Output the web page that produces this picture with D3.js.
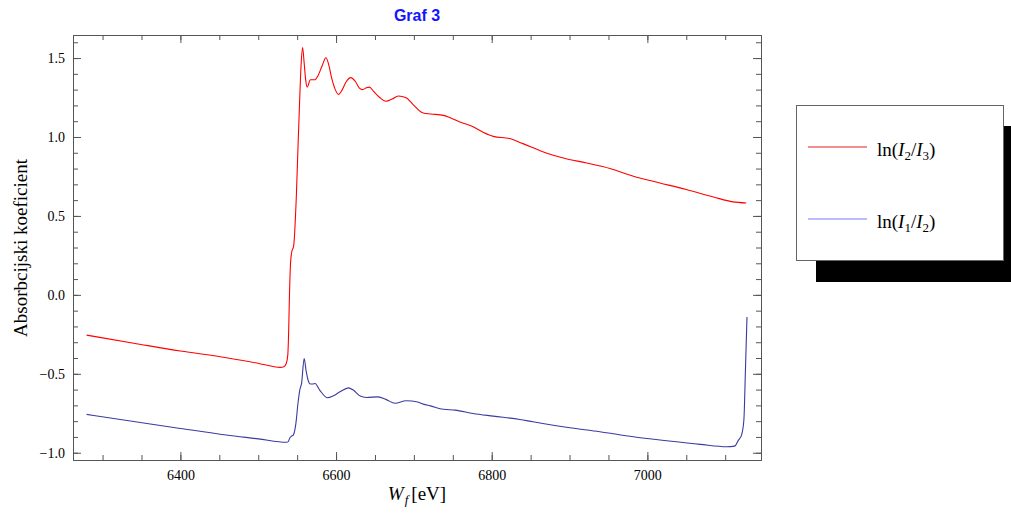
<!DOCTYPE html>
<html>
<head>
<meta charset="utf-8">
<script src="https://cdn.jsdelivr.net/npm/d3@7"></script>
<style>
    body { margin: 0; background: #fff; }
    svg { display: block; }
    .axis line, .axis path { stroke: #555; }
</style>
</head>
<body>
<svg width="1011" height="517"></svg>
<script>
// energy [eV] and absorption
var energyRed = [6279.5, 6340, 6400, 6459, 6502, 6519, 6528, 6533, 6536, 6538, 6539, 6540, 6541.5, 6543, 6545.5,
    6549, 6551.4, 6553, 6555, 6557, 6559, 6561, 6563, 6567, 6573, 6577, 6582, 6587, 6591, 6594, 6599, 6603, 6608,
    6613, 6619, 6625, 6630, 6634, 6639, 6643, 6648, 6656, 6664, 6672, 6680, 6690, 6700, 6712, 6722, 6738, 6746,
    6759, 6774, 6789, 6802, 6823, 6840, 6870, 6892, 6922, 6952, 6982, 7016, 7050, 7085, 7110, 7127];
var muRed = [-0.255, -0.306, -0.356, -0.398, -0.436, -0.454, -0.459, -0.455, -0.435, -0.38, -0.25, -0.03, 0.2, 0.27, 0.31,
    0.63, 0.98, 1.2, 1.45, 1.566, 1.47, 1.36, 1.316, 1.363, 1.363, 1.39, 1.45, 1.502, 1.45, 1.38, 1.30, 1.27, 1.30,
    1.35, 1.376, 1.35, 1.31, 1.30, 1.312, 1.316, 1.29, 1.25, 1.226, 1.24, 1.26, 1.249, 1.20, 1.152, 1.146, 1.137, 1.123,
    1.095, 1.07, 1.03, 1.004, 0.99, 0.958, 0.899, 0.867, 0.835, 0.80, 0.751, 0.709, 0.667, 0.62, 0.589, 0.582];

var energyBlue = [6279.5, 6340, 6400, 6459, 6500, 6536.5, 6538.5, 6540.7, 6542.5, 6545, 6548.4, 6551, 6553.5, 6555.7,
    6559, 6561.5, 6564, 6567, 6570, 6573, 6579, 6589, 6596, 6605, 6616, 6622, 6631, 6639, 6654, 6664, 6676, 6690,
    6705, 6712, 6721, 6738, 6753, 6776, 6802, 6836, 6853, 6896, 6939, 6982, 7025, 7068, 7102, 7112, 7117, 7121,
    7124, 7126, 7128];
var muBlue = [-0.757, -0.802, -0.846, -0.888, -0.912, -0.934, -0.93, -0.905, -0.896, -0.888, -0.814, -0.69, -0.60, -0.561,
    -0.403, -0.48, -0.54, -0.565, -0.565, -0.561, -0.603, -0.652, -0.641, -0.614, -0.589, -0.603, -0.641, -0.65,
    -0.646, -0.662, -0.687, -0.671, -0.679, -0.692, -0.703, -0.725, -0.73, -0.751, -0.768, -0.789, -0.804, -0.839,
    -0.867, -0.899, -0.924, -0.947, -0.962, -0.958, -0.92, -0.888, -0.793, -0.477, -0.14];

var xTickLabels = [6400, 6600, 6800, 7000];
var yTickLabels = [-1.0, -0.5, 0.0, 0.5, 1.0, 1.5];

const svg = d3.select('svg');

const margin = {
    top: 35,
    bottom: 57,
    left: 73,
    right: 250
};

const width = +svg.attr('width') - margin.left - margin.right;
const height = +svg.attr('height') - margin.top - margin.bottom;

const chart = svg
    .append('g')
    .attr('transform', `translate(${margin.left},${margin.top})`);

// Create scales
const xScale = d3
    .scaleLinear()
    .range([0, width])
    .domain([6262, 7146]);

const yScale = d3
    .scaleLinear()
    .range([height, 0])
    .domain([-1.046, 1.646]);

const xMinor = d3.range(6300, 7146, 50);
const yMinor = d3.range(-10, 17).map(function(d) { return d / 10; });

function drawAxis(axisFn, scale, ticks, size, transform, labels) {
    var a = axisFn(scale)
        .tickValues(ticks)
        .tickSizeInner(-size)
        .tickSizeOuter(0);
    if (labels) {
        a.tickPadding(labels).tickFormat(d3.format('.1f'));
    } else {
        a.tickFormat('');
    }
    var g = chart
        .append('g')
        .attr('class', 'axis')
        .attr('transform', transform)
        .call(a);
    g.selectAll('text')
        .style('font-family', "'Liberation Serif', 'Times New Roman', serif")
        .style('font-size', '14px')
        .style('fill', '#000');
    return g;
}

// Frame ticks: minor then major, on all four sides
drawAxis(d3.axisBottom, xScale, xMinor, 5, `translate(0,${height})`);
drawAxis(d3.axisTop, xScale, xMinor, 5, 'translate(0,0)');
drawAxis(d3.axisLeft, yScale, yMinor, 5, 'translate(0,0)');
drawAxis(d3.axisRight, yScale, yMinor, 5, `translate(${width},0)`);

drawAxis(d3.axisBottom, xScale, xTickLabels, 8, `translate(0,${height})`, 10)
    .call(function(g) { g.selectAll('text').text(function(d) { return d; }); });
drawAxis(d3.axisTop, xScale, xTickLabels, 8, 'translate(0,0)');
drawAxis(d3.axisLeft, yScale, yTickLabels, 8, 'translate(0,0)', 8)
    .call(function(g) {
        g.selectAll('text').text(function(d) { return d < 0 ? '\u2212' + Math.abs(d).toFixed(1) : d.toFixed(1); });
    });
drawAxis(d3.axisRight, yScale, yTickLabels, 8, `translate(${width},0)`);

// Curves
const line = d3
    .line()
    .x(function(d) { return xScale(d[0]); })
    .y(function(d) { return yScale(d[1]); })
    .curve(d3.curveMonotoneX);

chart
    .append('path')
    .datum(d3.zip(energyRed, muRed))
    .attr('fill', 'none')
    .attr('stroke', '#ff0000')
    .attr('stroke-width', 1.1)
    .attr('d', line);

chart
    .append('path')
    .datum(d3.zip(energyBlue, muBlue))
    .attr('fill', 'none')
    .attr('stroke', '#3a3aa0')
    .attr('stroke-width', 1.1)
    .attr('d', line);

// Titles
svg.append('text')
    .attr('x', margin.left + width / 2)
    .attr('y', 21)
    .style('text-anchor', 'middle')
    .style('font-family', "'Liberation Sans', Arial, sans-serif")
    .style('font-weight', 'bold')
    .style('font-size', '16px')
    .style('fill', '#1414ff')
    .text('Graf 3');

const xTitle = svg.append('text')
    .attr('x', margin.left + width / 2)
    .attr('y', 500)
    .style('text-anchor', 'middle')
    .style('font-family', "'Liberation Serif', serif")
    .style('font-size', '19px');
xTitle.append('tspan').style('font-style', 'italic').text('W');
xTitle.append('tspan').style('font-style', 'italic').style('font-size', '13px').attr('dx', 1).attr('dy', 4).text('f');
xTitle.append('tspan').attr('dx', 3).attr('dy', -4).text('[eV]');

svg.append('text')
    .attr('transform', 'translate(27,' + (margin.top + 213) + ') rotate(-90)')
    .style('text-anchor', 'middle')
    .style('font-family', "'Liberation Serif', serif")
    .style('font-size', '19px')
    .text('Absorbcijski koeficient');

// Legend with drop shadow
const legend = svg.append('g');

legend.append('rect')
    .attr('x', 816).attr('y', 126)
    .attr('width', 207).attr('height', 156)
    .attr('fill', '#000');

legend.append('rect')
    .attr('x', 796.5).attr('y', 105.5)
    .attr('width', 207).attr('height', 155)
    .attr('fill', '#fff')
    .attr('stroke', '#666');

var legendItems = [
    { color: '#e61e1e', a: '2', b: '3', y: 147 },
    { color: '#7878ff', a: '1', b: '2', y: 219 }
];

legendItems.forEach(function(item) {
    legend.append('line')
        .attr('x1', 808).attr('x2', 867)
        .attr('y1', item.y).attr('y2', item.y)
        .attr('stroke', item.color)
        .attr('stroke-width', 1.2);

    var t = legend.append('text')
        .attr('x', 877)
        .attr('y', item.y + 9)
        .style('font-family', "'Liberation Serif', serif")
        .style('font-size', '19px');
    t.append('tspan').text('ln(');
    t.append('tspan').style('font-style', 'italic').text('I');
    t.append('tspan').style('font-size', '13px').attr('dy', 4).text(item.a);
    t.append('tspan').attr('dy', -4).text('/');
    t.append('tspan').style('font-style', 'italic').text('I');
    t.append('tspan').style('font-size', '13px').attr('dy', 4).text(item.b);
    t.append('tspan').attr('dy', -4).text(')');
});
</script>
</body>
</html>
